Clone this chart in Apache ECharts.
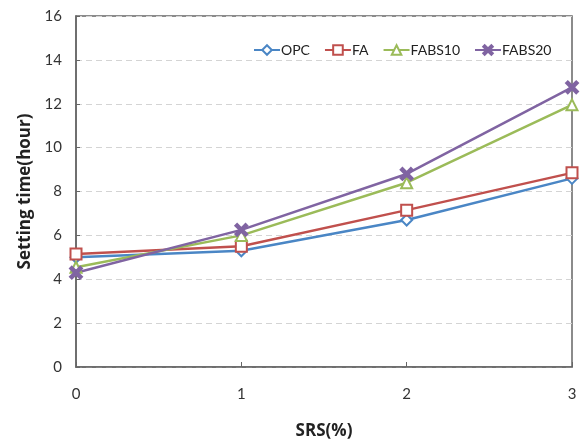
<!DOCTYPE html>
<html>
<head>
<meta charset="utf-8">
<script src="https://cdn.jsdelivr.net/npm/echarts@6/dist/echarts.min.js"></script>
<style>
html, body { margin: 0; padding: 0; background: #fff; }
#main { width: 584px; height: 443px; }
</style>
</head>
<body>
<div id="main"></div>
<script>
var srs = [0, 1, 2, 3];
var opc = [5.0, 5.3, 6.7, 8.6];
var fa = [5.15, 5.5, 7.15, 8.85];
var fabs10 = [4.55, 6.0, 8.4, 11.95];
var fabs20 = [4.3, 6.25, 8.8, 12.75];

var xPath = 'path://M0,1.5L1.5,0L5,3.5L8.5,0L10,1.5L6.5,5L10,8.5L8.5,10L5,6.5L1.5,10L0,8.5L3.5,5Z';

function pairs(vals) {
    var out = [];
    for (var i = 0; i < srs.length; i++) {
        out.push([srs[i], vals[i]]);
    }
    return out;
}

var chart = echarts.init(document.getElementById('main'), null, { renderer: 'canvas' });

function mkSeries(name, vals, color, symbol, size) {
    return {
        name: name,
        type: 'line',
        data: pairs(vals),
        symbol: symbol,
        symbolSize: size,
        showAllSymbol: true,
        lineStyle: { color: color, width: 2.5 },
        itemStyle: { color: color, borderColor: color, borderWidth: 2 }
    };
}

var option = {
    animation: false,
    backgroundColor: '#fff',
    textStyle: { fontFamily: 'Lato' },
    grid: {
        left: 76, right: 12, top: 16, bottom: 76,
        outerBoundsMode: 'none',
        containLabel: false,
        show: true, borderColor: '#666', borderWidth: 1.5
    },
    legend: {
        top: 38, left: 248,
        itemGap: 14,
        itemWidth: 26, itemHeight: 12,
        textStyle: { fontFamily: 'Lato', fontSize: 14, color: '#222', padding: [0, 0, 0, -4] },
        data: ['OPC', 'FA', 'FABS10', 'FABS20']
    },
    xAxis: {
        type: 'value',
        min: 0, max: 3, interval: 1,
        name: 'SRS(%)',
        nameLocation: 'middle',
        nameGap: 56,
        nameTextStyle: { fontFamily: 'Open Sans', fontWeight: 'bold', fontSize: 17, color: '#222' },
        axisLine: { show: true, lineStyle: { color: '#666', width: 1.5 } },
        axisTick: { show: true, inside: true, length: 5, lineStyle: { color: '#666' } },
        axisLabel: { fontSize: 15, color: '#333', margin: 20 },
        splitLine: { show: false }
    },
    yAxis: {
        type: 'value',
        min: 0, max: 16, interval: 2,
        name: 'Setting time(hour)',
        nameLocation: 'middle',
        nameGap: 42,
        nameTextStyle: { fontFamily: 'Open Sans', fontWeight: 'bold', fontSize: 17, color: '#222' },
        axisLine: { show: true, lineStyle: { color: '#666', width: 1.5 } },
        axisTick: { show: true, inside: true, length: 4, lineStyle: { color: '#666' } },
        axisLabel: { fontSize: 15, color: '#333', margin: 14 },
        splitLine: { show: true, lineStyle: { color: '#d4d4d4', type: [6, 4], width: 1 } }
    },
    series: [
        mkSeries('OPC', opc, '#4a86c5', 'emptyDiamond', 11),
        mkSeries('FA', fa, '#c0504d', 'emptyRect', 11),
        mkSeries('FABS10', fabs10, '#9bbb59', 'emptyTriangle', 11),
        mkSeries('FABS20', fabs20, '#8064a2', xPath, 12)
    ]
};

chart.setOption(option);
</script>
</body>
</html>
